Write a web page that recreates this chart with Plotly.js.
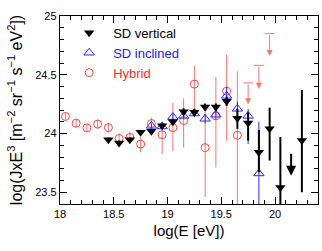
<!DOCTYPE html>
<html>
<head>
<meta charset="utf-8">
<script src="https://cdn.plot.ly/plotly-3.0.1.min.js"></script>
<style>
html,body{margin:0;padding:0;background:#fff;}
#chart{width:322px;height:251px;}
</style>
</head>
<body>
<div id="chart"></div>
<script>
// SD vertical
var sdvX = [18.45, 18.55, 18.65, 18.75, 18.85, 18.95, 19.05, 19.15, 19.25, 19.35, 19.45, 19.55, 19.65, 19.75, 19.85, 19.95, 20.05, 20.25];
var sdvY = [23.946, 23.92, 23.946, 24.01, 24.02, 24.065, 24.10, 24.185, 24.18, 24.225, 24.225, 24.275, 24.13, 24.09, 23.84, 24.04, 23.54, 23.94];
var sdvErrPlus  = [0.02, 0.02, 0.02, 0.02, 0.02, 0.02, 0.02, 0.03, 0.03, 0.03, 0.03, 0.04, 0.08, 0.09, 0.19, 0.18, 0.43, 0.43];
var sdvErrMinus = [0.02, 0.02, 0.02, 0.02, 0.02, 0.02, 0.02, 0.03, 0.03, 0.03, 0.03, 0.04, 0.09, 0.15, 0.17, 0.27, 0.50, 0.44];
var sdvLimX = [20.15];
var sdvLimTop = [23.84];
var sdvLimTip = [23.64];

// SD inclined
var sdiX = [18.85, 18.95, 19.05, 19.15, 19.25, 19.35, 19.45, 19.55, 19.65, 19.75, 19.85];
var sdiY = [24.065, 24.06, 24.14, 24.15, 24.17, 24.125, 24.16, 24.32, 24.21, 24.15, 23.66];
var sdiErrPlus  = [0.02, 0.02, 0.03, 0.03, 0.03, 0.04, 0.04, 0.08, 0.06, 0.06, 0.44];
var sdiErrMinus = [0.02, 0.02, 0.03, 0.03, 0.03, 0.04, 0.04, 0.08, 0.06, 0.24, 0.50];

// Hybrid
var hybX = [18.05, 18.15, 18.25, 18.35, 18.45, 18.55, 18.65, 18.75, 18.85, 18.95, 19.05, 19.15, 19.25, 19.35, 19.45, 19.55, 19.65];
var hybY = [24.145, 24.088, 24.048, 24.08, 24.05, 23.957, 23.966, 23.91, 24.085, 23.99, 24.05, 24.11, 24.42, 23.88, 24.15, 24.36, 23.985];
var hybErrPlus  = [0.035, 0.035, 0.035, 0.04, 0.04, 0.045, 0.05, 0.06, 0.05, 0.11, 0.21, 0.19, 0.155, 0.31, 0.33, 0.31, 0.545];
var hybErrMinus = [0.035, 0.035, 0.035, 0.04, 0.04, 0.045, 0.05, 0.07, 0.08, 0.165, 0.20, 0.23, 0.26, 0.42, 0.44, 0.42, 0.70];
var hybLimX = [19.75, 19.85, 19.95];
var hybLimTop = [24.43, 24.58, 24.85];
var hybLimTip = [24.25, 24.38, 24.66];

var xTickVals = [18, 18.5, 19, 19.5, 20];
var xTickText = ['18', '18.5', '19', '19.5', '20'];
var yTickVals = [23.5, 24, 24.5, 25];
var yTickText = ['23.5', '24', '24.5', '25'];

var RED = '#ff4444';
var REDBAR = 'rgba(255,90,90,0.85)';
var BLUE = '#2a2aff';

var traces = [
  {
    x: hybX, y: hybY, type: 'scatter', mode: 'markers', name: '<span style="color:#ff2a2a">Hybrid</span>',
    marker: {symbol: 'circle-open', size: 8, color: RED, line: {width: 1, color: RED}},
    error_y: {type: 'data', symmetric: false, array: hybErrPlus, arrayminus: hybErrMinus, color: REDBAR, thickness: 1, width: 0}
  },
  {
    x: hybLimX, y: hybLimTop, type: 'scatter', mode: 'markers', showlegend: false, hoverinfo: 'skip',
    marker: {symbol: 'line-ew-open', size: 7, color: REDBAR, line: {width: 1, color: REDBAR}}
  },
  {
    x: sdiX, y: sdiY, type: 'scatter', mode: 'markers', name: '<span style="color:#2020ff">SD inclined</span>',
    marker: {symbol: 'triangle-up-open', size: 9, color: BLUE, line: {width: 1, color: BLUE}},
    error_y: {type: 'data', symmetric: false, array: sdiErrPlus, arrayminus: sdiErrMinus, color: BLUE, thickness: 1, width: 0}
  },
  {
    x: sdvX, y: sdvY, type: 'scatter', mode: 'markers', name: 'SD vertical',
    marker: {symbol: 'triangle-down', size: 9, color: '#000'},
    error_y: {type: 'data', symmetric: false, array: sdvErrPlus, arrayminus: sdvErrMinus, color: '#000', thickness: 2, width: 0}
  }
];

var annotations = [];
for (var i = 0; i < hybLimX.length; i++) {
  annotations.push({x: hybLimX[i], y: hybLimTip[i], ax: hybLimX[i], ay: hybLimTop[i], xref: 'x', yref: 'y', axref: 'x', ayref: 'y',
    text: '', showarrow: true, arrowhead: 2, arrowsize: 1.2, arrowwidth: 1, arrowcolor: REDBAR, standoff: 0});
}
for (var j = 0; j < sdvLimX.length; j++) {
  annotations.push({x: sdvLimX[j], y: sdvLimTip[j], ax: sdvLimX[j], ay: sdvLimTop[j], xref: 'x', yref: 'y', axref: 'x', ayref: 'y',
    text: '', showarrow: true, arrowhead: 2, arrowsize: 1, arrowwidth: 2, arrowcolor: '#000', standoff: 0});
}

var layout = {
  width: 322, height: 251,
  margin: {l: 60, r: 4, t: 16, b: 47},
  paper_bgcolor: '#fff', plot_bgcolor: '#fff',
  font: {family: 'Liberation Sans, Arial, sans-serif', size: 11, color: '#000'},
  showlegend: true,
  legend: {x: 0.02, y: 0.99, xanchor: 'left', yanchor: 'top', traceorder: 'reversed', bgcolor: 'rgba(0,0,0,0)',
    font: {size: 13, color: '#000'}, tracegroupgap: 0, itemwidth: 38},
  xaxis: {
    range: [18, 20.4], showgrid: false, zeroline: false, showline: true, linecolor: '#000', linewidth: 1.2, mirror: 'ticks',
    ticks: 'inside', ticklen: 7, tickwidth: 1, tickcolor: '#000', tickvals: xTickVals, ticktext: xTickText,
    minor: {dtick: 0.1, ticks: 'inside', ticklen: 4, tickwidth: 1, tickcolor: '#000', showgrid: false},
    tickfont: {size: 11},
    title: {text: 'log(E [eV])', font: {size: 15}, standoff: 6}
  },
  yaxis: {
    range: [23.4, 25], showgrid: false, zeroline: false, showline: true, linecolor: '#000', linewidth: 1.2, mirror: 'ticks',
    ticks: 'inside', ticklen: 7, tickwidth: 1, tickcolor: '#000', tickvals: yTickVals, ticktext: yTickText,
    minor: {dtick: 0.1, ticks: 'inside', ticklen: 4, tickwidth: 1, tickcolor: '#000', showgrid: false},
    tickfont: {size: 11},
    title: {text: 'log(JxE<sup>3</sup> [m<sup>−2</sup> sr<sup>−1</sup> s<sup>−1</sup> eV<sup>2</sup>])', font: {size: 16}, standoff: 8}
  },
  annotations: annotations
};

Plotly.newPlot('chart', traces, layout, {displayModeBar: false, staticPlot: true});
</script>
</body>
</html>
